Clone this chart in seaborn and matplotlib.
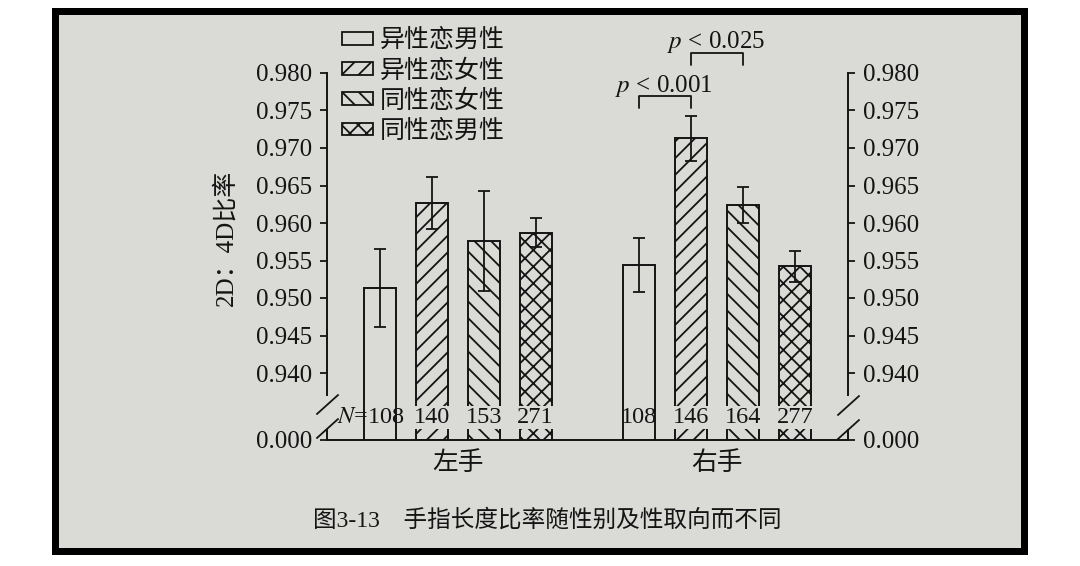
import numpy as np
import pandas as pd
import matplotlib
matplotlib.use("Agg")
import matplotlib.pyplot as plt
import seaborn as sns
from matplotlib.patches import Patch, Rectangle

# ---------------- data ----------------
hands = ['左手', '右手']
groups = ['异性恋男性', '异性恋女性', '同性恋女性', '同性恋男性']
left_mean = [0.9513, 0.9627, 0.9576, 0.9587]
left_err = [0.0052, 0.0035, 0.0067, 0.0019]
right_mean = [0.9544, 0.9713, 0.9624, 0.9542]
right_err = [0.0036, 0.0030, 0.0024, 0.0021]
left_n = [108, 140, 153, 271]
right_n = [108, 146, 164, 277]
y_ticks = [0.940, 0.945, 0.950, 0.955, 0.960, 0.965, 0.970, 0.975, 0.980]
p_labels = ['< 0.001', '< 0.025']
p_pairs = [(0, 1), (1, 2)]
hatches = ['', '//', '\\\\', 'xx']
caption = '图3-13　手指长度比率随性别及性取向而不同'
ylabel = '2D：4D比率'

PAPER = '#dadad7'
INK = '#141414'

sns.set_theme(style='ticks')
plt.rcParams['font.family'] = ['Liberation Serif', 'Noto Sans CJK SC']
plt.rcParams['mathtext.fontset'] = 'stix'
plt.rcParams['hatch.linewidth'] = 1.3
plt.rcParams['hatch.color'] = INK
plt.rcParams['axes.edgecolor'] = INK
plt.rcParams['text.color'] = INK
plt.rcParams['xtick.color'] = INK
plt.rcParams['ytick.color'] = INK
plt.rcParams['axes.labelcolor'] = INK
plt.rcParams['axes.unicode_minus'] = False

df = pd.DataFrame({
    'hand': np.repeat(hands, len(groups)),
    'group': groups * len(hands),
    'value': left_mean + right_mean,
    'err': left_err + right_err,
    'n': left_n + right_n,
})

W, H = 1080, 566
fig = plt.figure(figsize=(W / 100, H / 100), dpi=100, facecolor='white')
# photo frame + paper
fig.patches.append(Rectangle((52 / W, 1 - 555 / H), 976 / W, 547 / H, transform=fig.transFigure,
                             facecolor='black', edgecolor='none', zorder=-10))
fig.patches.append(Rectangle((59 / W, 1 - 548 / H), 962 / W, 533 / H, transform=fig.transFigure,
                             facecolor=PAPER, edgecolor='none', zorder=-9))

ax_bot = fig.add_axes([327 / W, 1 - 440 / H, 521 / W, 37 / H])
ax_top = fig.add_axes([327 / W, 1 - 403 / H, 521 / W, 375 / H])

bars = {}
for ax in (ax_bot, ax_top):
    ax.set_facecolor('none')
    sns.barplot(data=df, x='hand', y='value', hue='group', order=hands, hue_order=groups,
                errorbar=None, width=0.8, gap=0.385, legend=False, ax=ax,
                edgecolor=INK, linewidth=1.4)
    conts = list(ax.containers)
    bars[ax] = conts
    for cont, h in zip(conts, hatches):
        for p in cont:
            p.set_facecolor('none')
            p.set_edgecolor(INK)
            p.set_hatch(h)
    ax.set_xlim(-0.504, 1.504)
    ax.set_xlabel('')
    ax.set_ylabel('')

# ---------------- top (broken) axes ----------------
ax_top.set_ylim(0.936, 0.986)
ax_top.set_yticks(y_ticks)
ax_top.set_yticklabels([f'{v:.3f}' for v in y_ticks])
for s in ('top', 'bottom'):
    ax_top.spines[s].set_visible(False)
for s in ('left', 'right'):
    ax_top.spines[s].set_visible(True)
    ax_top.spines[s].set_bounds(0.937, 0.980)
    ax_top.spines[s].set_linewidth(1.4)
ax_top.tick_params(axis='y', left=True, right=True, labelleft=True, labelright=True,
                   direction='out', length=5, width=1.3, pad=5.5, labelsize=18)
ax_top.tick_params(axis='x', bottom=False, labelbottom=False)
ax_top.set_ylabel(ylabel, fontsize=18)
ax_top.yaxis.set_label_coords(-0.172, 0.44)

# error bars
bar_pos = {}
for gi, cont in enumerate(bars[ax_top]):
    xs, ys, es = [], [], []
    for hi, p in enumerate(cont):
        xc = p.get_x() + p.get_width() / 2
        row = df[(df.hand == hands[hi]) & (df.group == groups[gi])].iloc[0]
        xs.append(xc)
        ys.append(row.value)
        es.append(row.err)
        bar_pos[(hi, gi)] = (xc, row.value + row.err)
    ax_top.errorbar(xs, ys, yerr=es, fmt='none', ecolor=INK, elinewidth=1.3,
                    capsize=4.3, capthick=1.3, zorder=4)

# significance brackets (right hand)
base = max(bar_pos[(1, g)][1] for pair in p_pairs for g in pair)
for k, ((a, b), lab) in enumerate(zip(p_pairs, p_labels)):
    xa, xb = bar_pos[(1, a)][0], bar_pos[(1, b)][0]
    y = base + 0.0026 + k * 0.0058
    leg = 0.0016
    ax_top.plot([xa, xa, xb, xb], [y - leg, y, y, y - leg], color=INK, lw=1.3,
                clip_on=False, zorder=5)
    ax_top.text((xa + xb) / 2 - 0.005, y + 0.0006, r'$p$ ' + lab, ha='center', va='baseline',
                fontsize=18, clip_on=False)

# ---------------- bottom axes ----------------
ax_bot.set_ylim(0, 0.037)
ax_bot.set_yticks([0.0])
ax_bot.set_yticklabels(['0.000'])
ax_bot.spines['top'].set_visible(False)
for s in ('left', 'right', 'bottom'):
    ax_bot.spines[s].set_visible(True)
    ax_bot.spines[s].set_linewidth(1.4)
for s in ('left', 'right'):
    ax_bot.spines[s].set_bounds(0, 0.010)
ax_bot.tick_params(axis='y', left=True, right=True, labelleft=True, labelright=True,
                   direction='out', length=5, width=1.3, pad=5.5, labelsize=18)
ax_bot.tick_params(axis='x', bottom=False, length=0, pad=8, labelsize=18.5)

# N labels
for gi, cont in enumerate(bars[ax_bot]):
    for hi, p in enumerate(cont):
        n = df[(df.hand == hands[hi]) & (df.group == groups[gi])].iloc[0].n
        xc = p.get_x() + p.get_width() / 2
        bbox = None
        if hatches[gi]:
            bbox = dict(boxstyle='square,pad=0.05', facecolor=PAPER, edgecolor='none')
        if gi == 0 and hi == 0:
            ax_bot.annotate(r'$N$=' + str(n), xy=(p.get_x() + p.get_width(), 0.33),
                            xycoords=('data', 'axes fraction'), xytext=(6.5, 0),
                            textcoords='offset points', ha='right', va='bottom',
                            fontsize=17.5, annotation_clip=False)
        else:
            ax_bot.annotate(str(n), xy=(xc, 0.33), xycoords=('data', 'axes fraction'),
                            ha='center', va='bottom', fontsize=17.5, bbox=bbox,
                            annotation_clip=False, zorder=6)

# break marks
kw = dict(marker=[(-1, -0.9), (1, 0.9)], markersize=16, linestyle='none', color=INK,
          mec=INK, mew=1.3, clip_on=False, transform=ax_bot.transAxes)
ax_bot.plot([0, 0, 1, 1], [0.96, 0.32, 0.95, 0.30], **kw)

# legend
handles = [Patch(facecolor='none', edgecolor=INK, hatch=h, linewidth=1.3) for h in hatches]
fig.legend(handles, groups, loc='upper left', bbox_to_anchor=(342 / W, 1 - 29 / H),
           frameon=False, fontsize=18, handlelength=1.24, handleheight=0.42,
           handletextpad=0.28, labelspacing=0.28, borderpad=0, borderaxespad=0)

fig.text(547 / W, 1 - 520 / H, caption, ha='center', va='center', fontsize=17)

fig.savefig('out.png', dpi=100, facecolor='white')
